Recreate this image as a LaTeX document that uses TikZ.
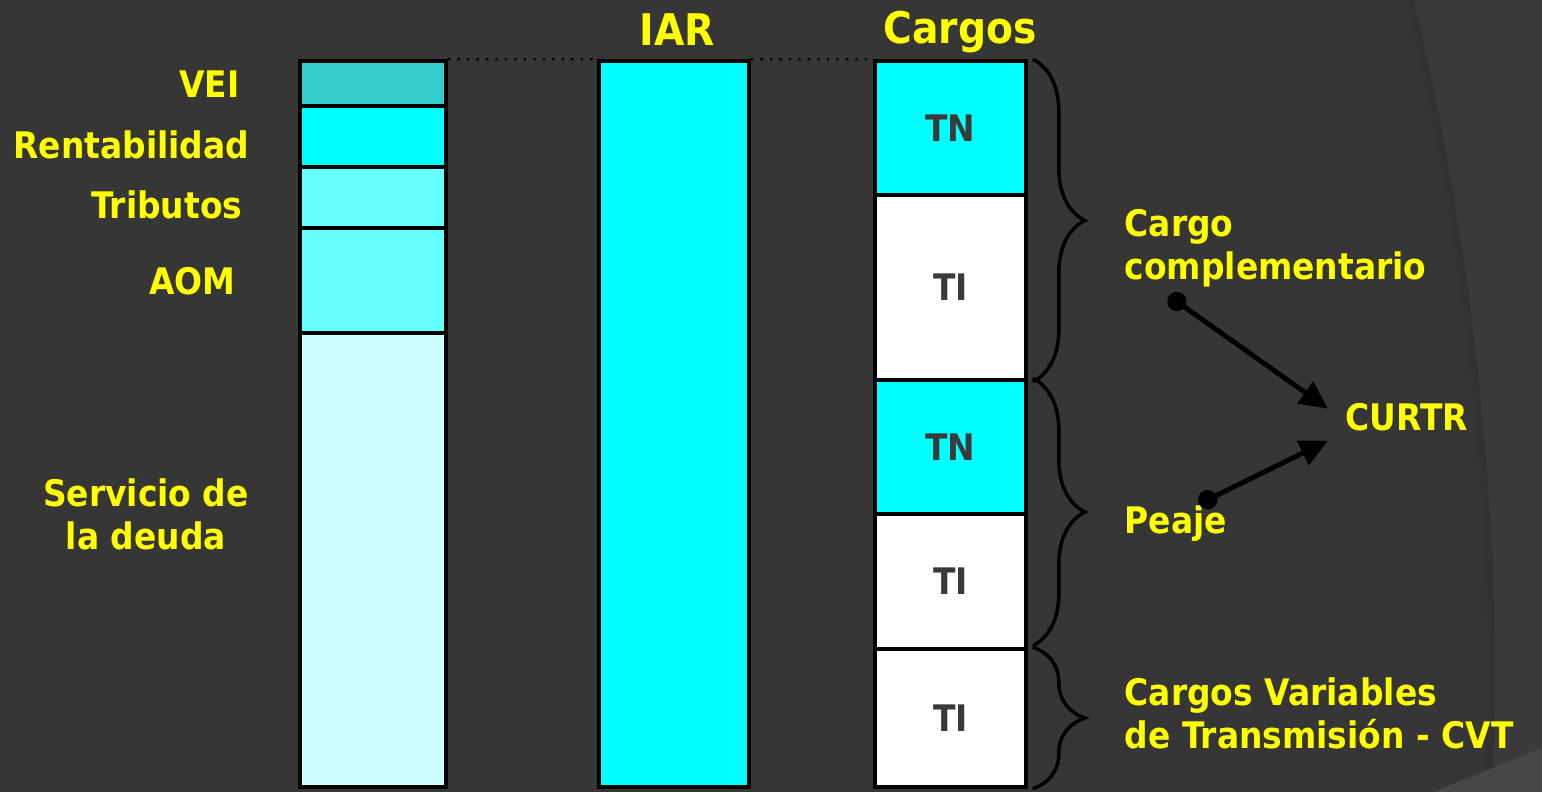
\documentclass[tikz,border=0pt]{standalone}
\usepackage{fontspec}
\setmainfont{DejaVu Sans}[FakeStretch=0.9]
\usepackage{tikz}
\usepackage{xcolor}
\usetikzlibrary{arrows.meta,decorations.pathreplacing}
\definecolor{slide-bg}{HTML}{363636}
\definecolor{slide-arc}{HTML}{3A3A3A}
\definecolor{arc-shadow}{HTML}{323232}
\definecolor{slide-corner}{HTML}{474747}
\definecolor{vei-teal}{HTML}{33CCCC}
\definecolor{full-cyan}{HTML}{00FFFF}
\definecolor{light-cyan}{HTML}{66FFFF}
\definecolor{pale-cyan}{HTML}{CCFFFF}
\definecolor{seg-text}{HTML}{3A3A3A}
\definecolor{label-yellow}{HTML}{FFFF00}
\tikzset{
    bar-seg/.style = {draw=black, line width=1pt, rectangle, inner sep=0pt, text=seg-text, font=\fontsize{10.4}{12.5}\selectfont\bfseries},
    side-label/.style = {text=label-yellow, inner sep=0pt, font=\fontsize{10.4}{12.5}\selectfont\bfseries},
    head-label/.style = {text=label-yellow, inner sep=0pt, font=\fontsize{12.4}{14}\selectfont\bfseries},
    curly-brace/.style = {draw=black, line width=1pt, decorate, decoration={brace, amplitude=0.52cm, aspect=0.5}},
    link-arrow/.style = {draw=black, line width=1.4pt, {Circle[length=5.5pt]}-{Triangle[length=8pt,width=7.5pt]}},
}

\begin{document}
\begin{tikzpicture}[x=0.01cm, y=-0.01cm]
\useasboundingbox (0,0) rectangle (1542,792);
% slide background
\fill[slide-bg] (0,0) rectangle (1542,792);
\fill[slide-arc] (1410,0) .. controls (1472,250) and (1502,560) .. (1488,792) -- (1542,792) -- (1542,0) -- cycle;
\draw[arc-shadow, line width=2pt] (1410,0) .. controls (1472,250) and (1502,560) .. (1488,792);
\fill[slide-corner] (1433,792) -- (1542,748) -- (1542,792) -- cycle;

% cost column
\node[bar-seg, fill=vei-teal, minimum width=1.46cm, minimum height=0.45cm] (vei) at (373,83.5) {};
\node[bar-seg, fill=full-cyan, minimum width=1.46cm, minimum height=0.61cm] (rent) at (373,136.5) {};
\node[bar-seg, fill=light-cyan, minimum width=1.46cm, minimum height=0.61cm] (trib) at (373,197.5) {};
\node[bar-seg, fill=light-cyan, minimum width=1.46cm, minimum height=1.05cm] (aom) at (373,280.5) {};
\node[bar-seg, fill=pale-cyan, minimum width=1.46cm, minimum height=4.54cm] (deuda) at (373,560) {};
\draw[vei-teal!60!gray, line width=0.6pt] ([yshift=-2pt]deuda.south west) -- ([yshift=-2pt]deuda.south east);

\node[side-label, anchor=base east] (vei-lbl) at (240,98) {VEI};
\node[side-label, anchor=base east] (rent-lbl) at (250,159) {Rentabilidad};
\node[side-label, anchor=base east] (trib-lbl) at (243,219) {Tributos};
\node[side-label, anchor=base east] (aom-lbl) at (236,295) {AOM};
\node[side-label, anchor=base, align=center] (deuda-lbl) at (146,550) {Servicio de\\la deuda};

% IAR column
\node[bar-seg, fill=full-cyan, minimum width=1.50cm, minimum height=7.26cm] (iar) at (674,424) {};
\node[head-label, anchor=base] (iar-lbl) at (677,46) {IAR};

% charges column
\node[bar-seg, fill=full-cyan, minimum width=1.51cm, minimum height=1.34cm] (tn1) at (950.5,128) {TN};
\node[bar-seg, fill=white, minimum width=1.51cm, minimum height=1.85cm] (ti1) at (950.5,287.5) {TI};
\node[bar-seg, fill=full-cyan, minimum width=1.51cm, minimum height=1.34cm] (tn2) at (950.5,447) {TN};
\node[bar-seg, fill=white, minimum width=1.51cm, minimum height=1.35cm] (ti2) at (950.5,581.5) {TI};
\node[bar-seg, fill=white, minimum width=1.51cm, minimum height=1.38cm] (ti3) at (950.5,718) {TI};
\node[head-label, anchor=base] (cargos-lbl) at (960,44) {Cargos};

\draw[dotted, line width=0.7pt] (vei.north east) -- (iar.north west);
\draw[dotted, line width=0.7pt] (iar.north east) -- (tn1.north west);

% braces
\draw[curly-brace] ([xshift=0.05cm]tn1.north east) -- ([xshift=0.05cm]ti1.south east);
\draw[curly-brace] ([xshift=0.05cm]tn2.north east) -- ([xshift=0.05cm, yshift=0.05cm]ti2.south east);
\draw[curly-brace] ([xshift=0.05cm]ti3.north east) -- ([xshift=0.05cm]ti3.south east);

\node[side-label, anchor=base west, align=left] (cc-lbl) at (1124,280) {Cargo\\complementario};
\node[side-label, anchor=base west] (peaje-lbl) at (1124,534) {Peaje};
\node[side-label, anchor=base west, align=left] (cvt-lbl) at (1124,749) {Cargos Variables\\de Transmisión - CVT};
\node[side-label, anchor=base west] (curtr) at (1345,431) {CURTR};

% arrows into CURTR
\coordinate (cc-dot) at (1169,296);
\coordinate (peaje-dot) at (1199,504);
\draw[link-arrow] (cc-dot) -- ([shift={(-17,-9)}]curtr.west);
\draw[link-arrow] (peaje-dot) -- ([shift={(-17,23)}]curtr.west);
\end{tikzpicture}
\end{document}
